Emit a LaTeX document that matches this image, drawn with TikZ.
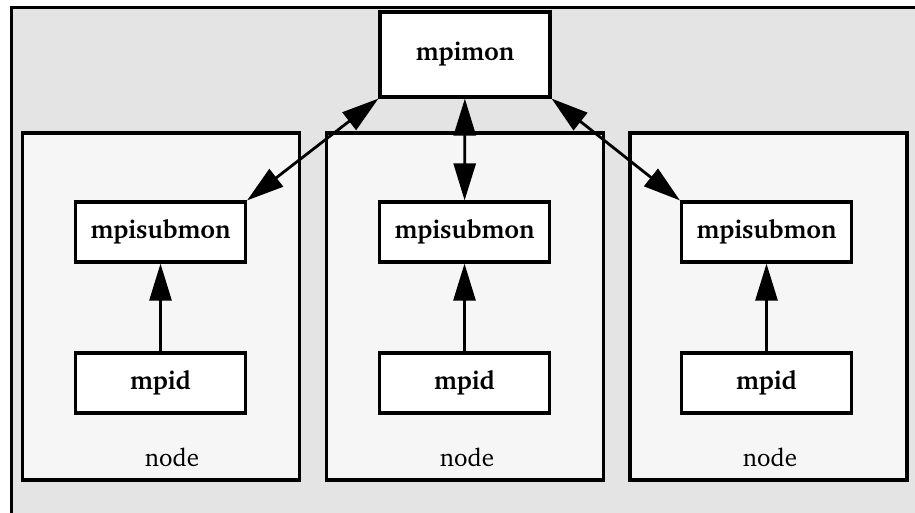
\documentclass[tikz,border=0pt]{standalone}
\usepackage[T1]{fontenc}
\usepackage{charter}
\usepackage{xcolor}
\usetikzlibrary{arrows.meta,positioning}
\definecolor{hostgrey}{HTML}{E4E4E4}
\definecolor{nodegrey}{HTML}{F6F6F6}
\tikzset{
  proc/.style={draw,line width=3.2pt,fill=white,minimum width=170pt,minimum height=60pt,
    inner sep=0pt,font=\fontsize{25.5}{30}\selectfont\bfseries},
  panel/.style={draw,line width=3.2pt,fill=nodegrey,minimum width=277pt,minimum height=347pt,inner sep=0pt},
  plabel/.style={font=\fontsize{25}{28}\selectfont},
  link/.style={line width=2.8pt,>={Triangle[length=37pt,width=22pt]}}
}

\begin{document}
\begin{tikzpicture}[x=1pt,y=-1pt]
\useasboundingbox (0,0) rectangle (915,513);
\clip (0,0) rectangle (915,513);
% the host frame, open to the right and bottom
\draw[line width=3.4pt,fill=hostgrey] (11.5,7.5) rectangle (940,540);

\node[panel] (N1) at (161,306.5) {};
\node[panel] (N2) at (465,306.5) {};
\node[panel] (N3) at (768.5,306.5) {};
\node[plabel] (L1) at (172,457) {node};
\node[plabel] (L2) at (467,457) {node};
\node[plabel] (L3) at (770,457) {node};

\node[proc,minimum height=85pt] (M) at (465,54.5) {mpimon};
\node[proc] (S1) at (160.5,232) {mpisubmon};
\node[proc] (S2) at (464.5,232) {mpisubmon};
\node[proc] (S3) at (766.5,232) {mpisubmon};
\node[proc] (D1) at (160.5,383) {mpid};
\node[proc] (D2) at (464.5,383) {mpid};
\node[proc] (D3) at (766.5,383) {mpid};

\path[link]
(M.south west) edge[<->] (S1.north east)
(M) edge[<->] (S2)
(M.south east) edge[<->] (S3.north west)
(D1) edge[->] (S1)
(D2) edge[->] (S2)
(D3) edge[->] (S3);
\end{tikzpicture}
\end{document}
